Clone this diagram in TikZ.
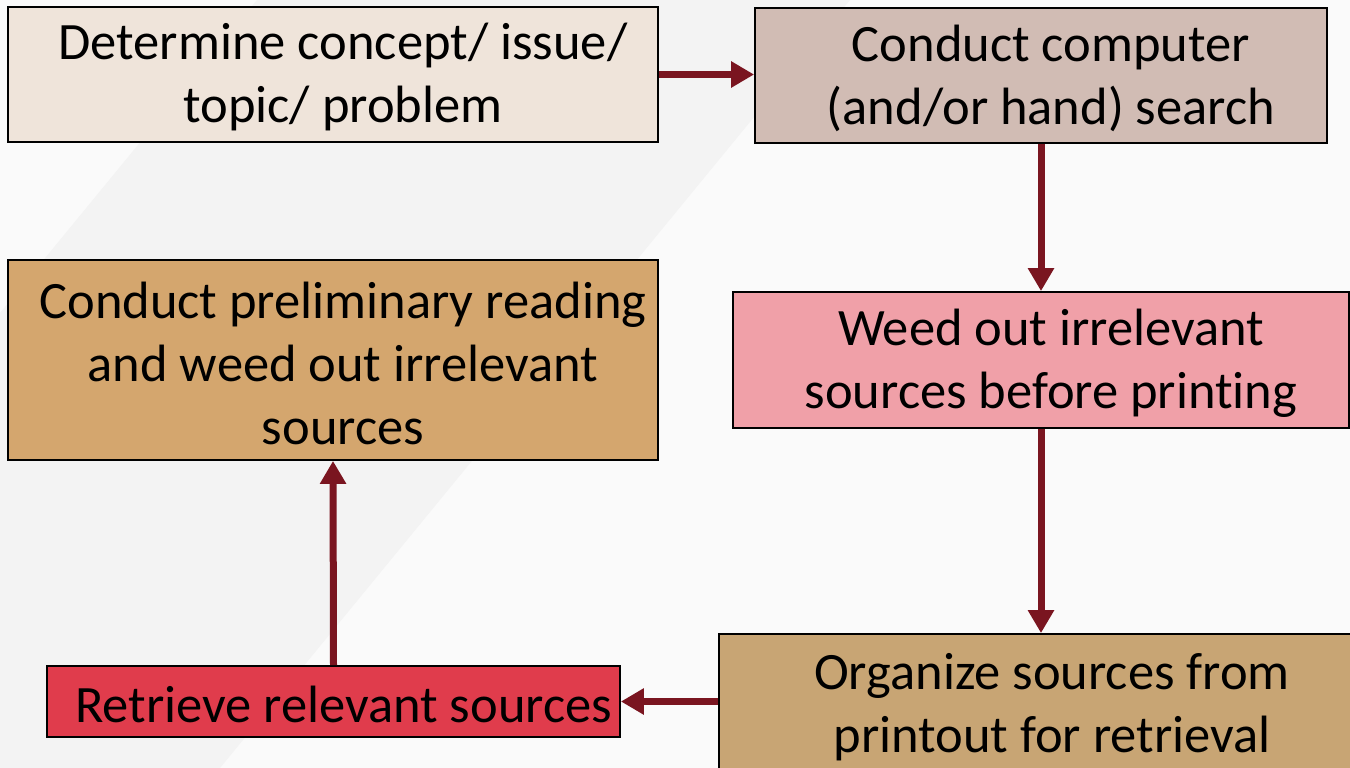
\documentclass[tikz,border=0pt]{standalone}
\usepackage{fontspec}
\setmainfont[Ligatures=NoCommon]{Carlito}
\usetikzlibrary{arrows.meta}

\definecolor{bgcol}{HTML}{FAFAFA}
\definecolor{bandcol}{HTML}{F3F3F3}
\definecolor{flowred}{HTML}{7A1520}
\definecolor{detcol}{HTML}{EFE4DA}
\definecolor{compcol}{HTML}{D1BCB4}
\definecolor{weedcol}{HTML}{F0A0A8}
\definecolor{orgcol}{HTML}{C8A574}
\definecolor{retrcol}{HTML}{E03C4C}
\definecolor{prelimcol}{HTML}{D4A66E}

\begin{document}
\begin{tikzpicture}[x=1pt, y=-1pt,
  stepbox/.style={draw=black, line width=1.8pt, inner sep=0pt},
  steptext/.style={font=\fontsize{52.5}{63}\selectfont, align=center, inner sep=0pt},
  flow/.style={draw=flowred, line width=7pt, -{Triangle[length=23pt, width=25pt]}}]

\newcommand{\textshift}{10pt}

% background
\clip (0,0) rectangle (1350,768);
\fill[bgcol] (0,0) rectangle (1350,768);
\fill[bandcol] (257,0) -- (850,0) -- (220,768) -- (0,768) -- (0,313) -- cycle;

% boxes
\node[stepbox, fill=detcol, minimum width=650pt, minimum height=135pt] (det) at (333,74.5) {};
\node[stepbox, fill=compcol, minimum width=572pt, minimum height=135pt] (comp) at (1041,75.5) {};
\node[stepbox, fill=weedcol, minimum width=616pt, minimum height=136pt] (weed) at (1041,360) {};
\node[stepbox, fill=orgcol, minimum width=646pt, minimum height=140pt] (org) at (1042,704) {};
\node[stepbox, fill=retrcol, minimum width=573pt, minimum height=71pt] (retr) at (333.5,701.5) {};
\node[stepbox, fill=prelimcol, minimum width=650pt, minimum height=200pt] (prelim) at (333,360) {};

% texts
\node[steptext] (detlbl) at ([xshift=\textshift, yshift=-3pt]det.center) {Determine concept/ issue/\\topic/ problem};
\node[steptext] (complbl) at ([xshift=\textshift, yshift=-3pt]comp.center) {Conduct computer\\(and/or hand) search};
\node[steptext] (weedlbl) at ([xshift=\textshift, yshift=-3pt]weed.center) {Weed out irrelevant\\sources before printing};
\node[steptext] (orglbl) at ([xshift=\textshift, yshift=-3pt]org.center) {Organize sources from\\printout for retrieval};
\node[steptext] (retrlbl) at ([xshift=\textshift, yshift=-3pt]retr.center) {Retrieve relevant sources};
\node[steptext] (prelimlbl) at ([xshift=\textshift, yshift=-3pt]prelim.center) {Conduct preliminary reading\\and weed out irrelevant\\sources};

% flow
\draw[flow] (det.east) -- (det.east -| comp.west);
\draw[flow] (comp.south) -- (weed.north);
\draw[flow] (weed.south) -- (weed.south |- org.north);
\draw[flow] (retr.east -| org.west) -- (retr.east);
\draw[flow] (retr.north) -- (prelim.south);

\end{tikzpicture}
\end{document}
